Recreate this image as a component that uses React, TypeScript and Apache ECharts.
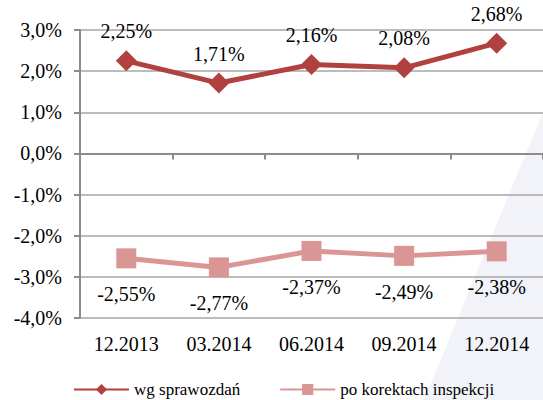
import React, { useEffect, useRef } from "react";
import * as echarts from "echarts";

const categories = ["12.2013", "03.2014", "06.2014", "09.2014", "12.2014"];
const wgSprawozdan = [2.25, 1.71, 2.16, 2.08, 2.68];
const poKorektach = [-2.55, -2.77, -2.37, -2.49, -2.38];
const seriesNames = ["wg sprawozdań", "po korektach inspekcji"];

const fmt = (v: number, d: number) => v.toFixed(d).replace(".", ",") + "%";
const FONT = "Liberation Serif";

export default function App() {
  const ref = useRef<HTMLDivElement>(null);
  useEffect(() => {
    if (!ref.current) return;
    const chart = echarts.init(ref.current, null, { renderer: "svg" });
    chart.setOption({
      animation: false,
      backgroundColor: "#ffffff",
      textStyle: { fontFamily: FONT, color: "#000" },
      graphic: [
        {
          type: "polygon",
          z: -10,
          silent: true,
          shape: { points: [[543, 112], [543, 400], [424, 400]] },
          style: { fill: "#F1F3F9", stroke: "none" },
        },
      ],
      grid: { left: 80, right: 0, top: 30, bottom: 82, containLabel: false },
      legend: {
        left: 73,
        top: 381,
        padding: 0,
        itemWidth: 55,
        itemHeight: 14,
        itemGap: 39,
        textStyle: { fontFamily: FONT, fontSize: 17, color: "#000" },
        data: seriesNames,
      },
      xAxis: [
        {
          type: "category",
          data: categories,
          position: "bottom",
          axisLine: { show: false, onZero: false },
          axisTick: { show: false },
          axisLabel: { fontFamily: FONT, fontSize: 20, color: "#000", margin: 16 },
        },
        {
          type: "category",
          data: categories,
          position: "top",
          axisLine: { show: true, onZero: true, lineStyle: { color: "#8C8C8C", width: 2 } },
          axisTick: { show: true, inside: true, length: 6, lineStyle: { color: "#8C8C8C", width: 2 } },
          axisLabel: { show: false },
        },
      ],
      yAxis: {
        type: "value",
        min: -4,
        max: 3,
        interval: 1,
        axisLine: { show: true, lineStyle: { color: "#8C8C8C", width: 2 } },
        axisTick: { show: true, length: 6, lineStyle: { color: "#8C8C8C", width: 2 } },
        splitLine: { lineStyle: { color: "#A6A6A6", width: 1.5 } },
        axisLabel: {
          fontFamily: FONT,
          fontSize: 20,
          color: "#000",
          margin: 18,
          formatter: (v: number) => fmt(v, 1),
        },
      },
      series: [
        {
          name: seriesNames[0],
          type: "line",
          data: wgSprawozdan,
          color: "#B0413E",
          symbol: "diamond",
          symbolSize: 21,
          lineStyle: { width: 5, color: "#B0413E" },
          itemStyle: { color: "#B0413E" },
          label: {
            show: true,
            position: "top",
            distance: 9,
            fontFamily: FONT,
            fontSize: 20,
            color: "#000",
            formatter: (p: any) => fmt(p.value, 2),
          },
          z: 4,
        },
        {
          name: seriesNames[1],
          type: "line",
          data: poKorektach,
          color: "#D99694",
          symbol: "rect",
          symbolSize: 20,
          lineStyle: { width: 5, color: "#D99694" },
          itemStyle: { color: "#D99694" },
          label: {
            show: true,
            position: "bottom",
            distance: 16,
            fontFamily: FONT,
            fontSize: 20,
            color: "#000",
            formatter: (p: any) => fmt(p.value, 2),
          },
          z: 3,
        },
      ],
    });
    return () => chart.dispose();
  }, []);
  return <div ref={ref} style={{ width: 543, height: 400, position: "absolute", left: 0, top: 0 }} />;
}
